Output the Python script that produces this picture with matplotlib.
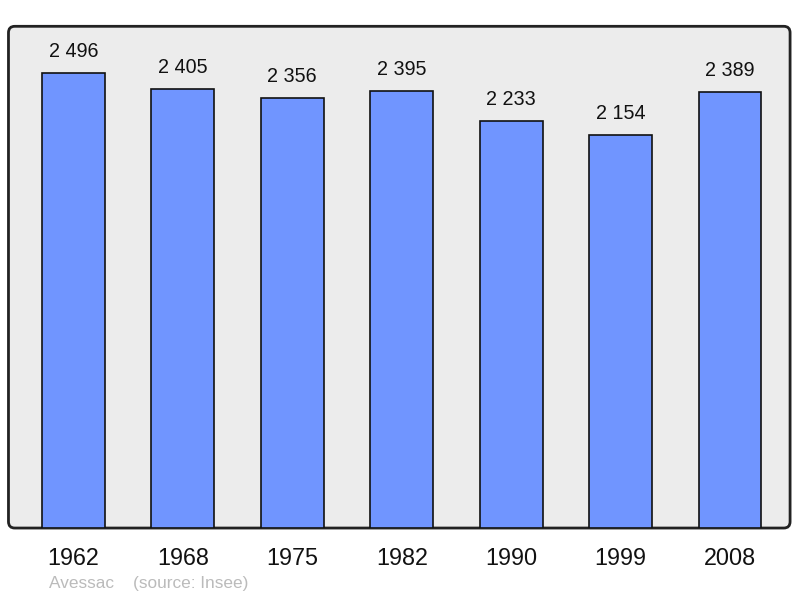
import matplotlib
matplotlib.use("Agg")
import matplotlib.pyplot as plt
from matplotlib.patches import FancyBboxPatch

years = ["1962", "1968", "1975", "1982", "1990", "1999", "2008"]
population = [2496, 2405, 2356, 2395, 2233, 2154, 2389]
labels = ["2 496", "2 405", "2 356", "2 395", "2 233", "2 154", "2 389"]

plt.rcParams['font.family'] = ['Liberation Sans', 'DejaVu Sans']

fig = plt.figure(figsize=(8.0, 5.98), dpi=100)
ax = fig.add_axes([0.0106, 0.117, 0.977, 0.839])

# rounded frame with grey fill
frame = FancyBboxPatch((0, 0), 1, 1, boxstyle="round,pad=0,rounding_size=0.008",
                       transform=ax.transAxes, facecolor="#ececec",
                       edgecolor="#222222", linewidth=2, zorder=0,
                       mutation_aspect=1.6, clip_on=False)
ax.add_patch(frame)
ax.patch.set_visible(False)
for s in ax.spines.values():
    s.set_visible(False)

x = list(range(len(years)))
ax.bar(x, population, width=0.573, color="#7095ff", edgecolor="#111111",
       linewidth=1.2, zorder=2)

for xi, v, lab in zip(x, population, labels):
    ax.annotate(lab, (xi, v), xytext=(0, 15.5), textcoords="offset points",
                ha="center", va="center", fontsize=14.2, color="#111111")

ax.set_xlim(-0.592, 6.548)
ax.set_ylim(0, 2750)
ax.set_yticks([])
ax.set_xticks(x)
ax.set_xticklabels(years, fontsize=16.8, color="#111111")
ax.tick_params(axis="x", length=0, pad=13.5)

fig.text(0.061, 0.0125, "Avessac    (source: Insee)", fontsize=12.4,
         color="#bbbbbb", ha="left", va="bottom")

fig.savefig("out.png", dpi=100)
